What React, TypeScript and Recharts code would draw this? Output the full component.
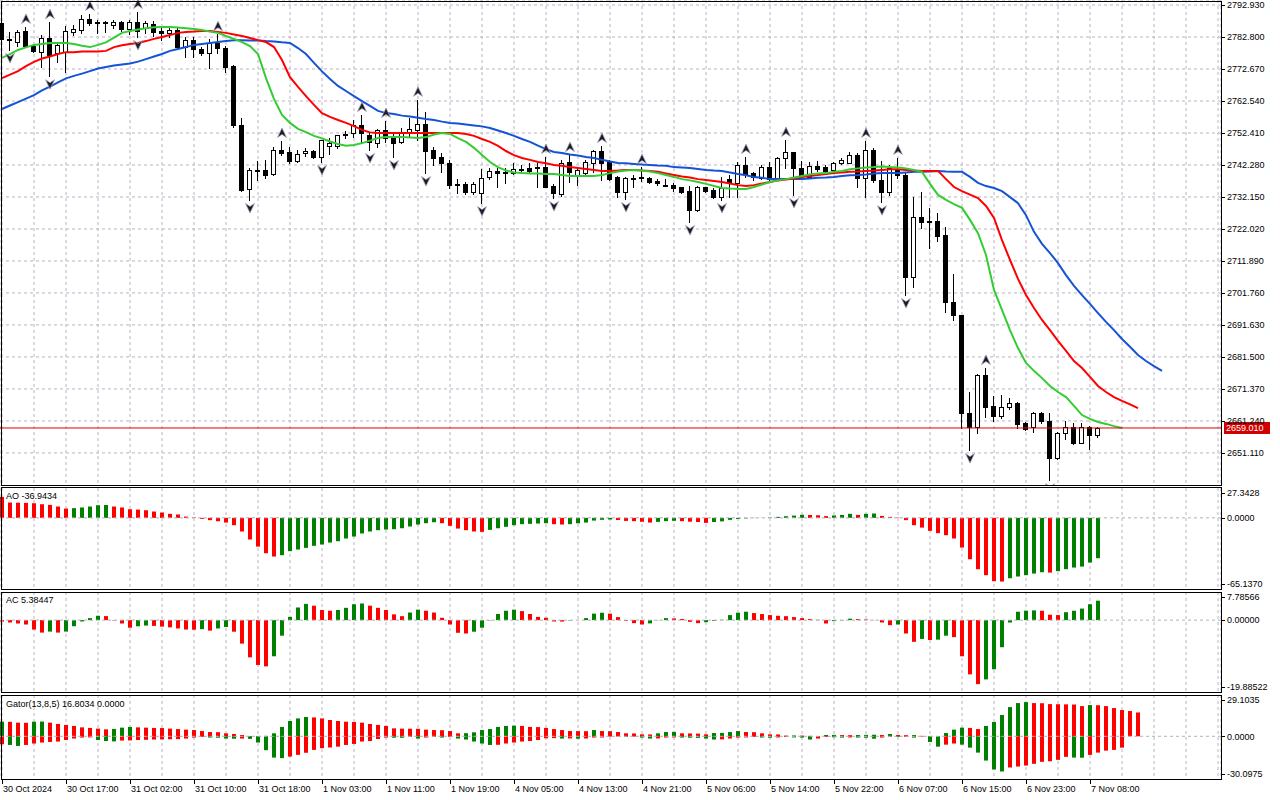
import {
  Bar,
  CartesianGrid,
  Cell,
  ComposedChart,
  Line,
  ReferenceLine,
  Scatter,
  XAxis,
  YAxis,
} from "recharts";

// ---- data ----
const timeLabels = [
  "30 Oct 2024", "30 Oct 17:00", "31 Oct 02:00", "31 Oct 10:00", "31 Oct 18:00",
  "1 Nov 03:00", "1 Nov 11:00", "1 Nov 19:00", "4 Nov 05:00", "4 Nov 13:00",
  "4 Nov 21:00", "5 Nov 06:00", "5 Nov 14:00", "5 Nov 22:00", "6 Nov 07:00",
  "6 Nov 15:00", "6 Nov 23:00", "7 Nov 08:00",
];

const priceTicks = [
  2792.93, 2782.8, 2772.67, 2762.54, 2752.41, 2742.28, 2732.15, 2722.02,
  2711.89, 2701.76, 2691.63, 2681.5, 2671.37, 2661.24, 2651.11,
];
const aoTicks = [27.3428, 0, -65.137];
const acTicks = [7.78566, 0, -19.88522];
const gatorTicks = [29.1035, 0, -30.0975];

const open = [
  2787.2, 2782.2, 2781.2, 2784.7, 2779.9, 2778.0, 2782.5, 2777.7, 2778.0, 2784.4,
  2785.0, 2788.5, 2787.5, 2787.4, 2786.6, 2787.7, 2785.3, 2787.5, 2785.6, 2786.9,
  2784.7, 2784.2, 2785.0, 2779.6, 2781.8, 2779.0, 2777.7, 2780.9, 2779.3, 2773.6,
  2754.9, 2734.7, 2740.7, 2740.7, 2739.4, 2747.0, 2746.4, 2743.5, 2746.1, 2746.7,
  2744.8, 2748.3, 2748.3, 2751.8, 2752.4, 2754.9, 2751.8, 2749.2, 2753.4, 2750.8,
  2749.5, 2752.7, 2753.4, 2755.2, 2747.0, 2744.8, 2742.9, 2736.1, 2736.3, 2733.7,
  2733.4, 2738.5, 2740.4, 2739.9, 2739.7, 2741.0, 2741.3, 2741.3, 2741.6, 2735.6,
  2733.1, 2743.2, 2738.8, 2739.7, 2742.9, 2746.7, 2743.2, 2738.5, 2733.7, 2738.2,
  2738.5, 2738.2, 2737.2, 2735.9, 2735.9, 2735.3, 2734.0, 2728.0, 2735.3, 2734.4,
  2732.1, 2737.8, 2736.6, 2742.3, 2739.7, 2738.2, 2741.6, 2737.8, 2744.5, 2746.4,
  2741.3, 2738.5, 2742.0, 2741.6, 2740.7, 2742.9, 2742.9, 2745.4, 2738.2, 2747.0,
  2737.5, 2733.7, 2740.7, 2739.1, 2706.8, 2725.8, 2724.5, 2724.5, 2720.1, 2698.9,
  2694.8, 2663.7, 2659.3, 2675.8, 2666.0, 2662.8, 2665.6, 2666.9, 2660.6, 2659.3,
  2663.7, 2661.2, 2649.5, 2657.4, 2659.3, 2654.3, 2659.3, 2656.8,
];
const high = [
  2787.9, 2784.4, 2785.0, 2786.0, 2780.6, 2783.4, 2787.5, 2780.9, 2786.3, 2786.6,
  2789.8, 2790.1, 2788.2, 2787.9, 2788.2, 2788.0, 2788.2, 2790.7, 2787.9, 2787.9,
  2785.6, 2786.3, 2785.6, 2782.8, 2782.8, 2779.6, 2782.2, 2783.7, 2779.9, 2773.9,
  2757.2, 2741.3, 2743.5, 2743.9, 2748.0, 2749.9, 2748.0, 2747.0, 2747.7, 2747.0,
  2750.2, 2750.8, 2751.8, 2753.0, 2756.5, 2758.1, 2752.4, 2753.7, 2756.2, 2752.4,
  2754.0, 2757.1, 2762.9, 2759.0, 2748.0, 2746.1, 2743.9, 2737.8, 2736.9, 2736.9,
  2741.0, 2741.3, 2741.3, 2741.3, 2742.9, 2742.3, 2742.9, 2742.9, 2744.8, 2736.3,
  2743.9, 2745.4, 2741.0, 2743.9, 2747.0, 2748.3, 2743.9, 2738.8, 2738.5, 2739.1,
  2741.6, 2738.5, 2737.8, 2737.8, 2736.6, 2735.3, 2735.6, 2735.6, 2735.3, 2735.0,
  2738.5, 2739.1, 2743.2, 2744.8, 2740.0, 2742.3, 2743.2, 2744.8, 2750.2, 2746.4,
  2743.5, 2743.2, 2743.5, 2742.3, 2743.2, 2744.5, 2746.4, 2746.1, 2749.9, 2747.7,
  2743.5, 2742.3, 2744.5, 2739.7, 2732.1, 2733.7, 2728.7, 2727.1, 2722.6, 2707.8,
  2694.8, 2670.4, 2676.1, 2678.0, 2669.1, 2669.4, 2668.5, 2667.2, 2660.9, 2664.1,
  2664.1, 2663.7, 2657.7, 2661.2, 2660.6, 2660.6, 2659.6, 2659.3,
];
const low = [
  2781.5, 2778.7, 2779.9, 2779.6, 2778.0, 2773.3, 2770.4, 2774.9, 2771.7, 2783.4,
  2784.1, 2786.6, 2784.1, 2784.4, 2785.6, 2784.7, 2783.7, 2782.8, 2784.1, 2783.1,
  2781.8, 2782.8, 2779.3, 2776.5, 2776.5, 2777.1, 2773.0, 2777.7, 2771.7, 2754.3,
  2734.0, 2731.2, 2737.5, 2738.1, 2739.1, 2745.4, 2742.9, 2743.2, 2745.1, 2744.5,
  2743.2, 2745.7, 2747.7, 2750.8, 2751.1, 2749.5, 2747.0, 2748.0, 2749.5, 2744.8,
  2749.2, 2751.1, 2750.2, 2739.7, 2742.3, 2740.0, 2735.0, 2733.4, 2733.1, 2733.1,
  2730.2, 2737.8, 2735.3, 2736.6, 2739.4, 2739.7, 2739.7, 2735.3, 2735.3, 2731.8,
  2732.5, 2736.9, 2735.9, 2739.4, 2740.0, 2737.5, 2737.5, 2732.1, 2731.5, 2735.3,
  2737.2, 2736.6, 2735.9, 2735.6, 2734.0, 2733.4, 2724.2, 2727.7, 2733.7, 2731.8,
  2731.2, 2732.1, 2732.1, 2738.5, 2737.5, 2737.8, 2737.5, 2737.5, 2741.3, 2732.8,
  2738.5, 2738.3, 2740.4, 2740.0, 2740.4, 2742.6, 2742.9, 2735.3, 2732.1, 2736.9,
  2730.5, 2732.8, 2738.2, 2701.1, 2703.6, 2722.3, 2716.0, 2718.2, 2695.7, 2693.2,
  2659.0, 2652.0, 2657.4, 2662.5, 2661.2, 2662.2, 2665.0, 2659.0, 2658.4, 2657.7,
  2660.6, 2642.5, 2649.2, 2655.5, 2653.9, 2654.3, 2652.3, 2656.1,
];
const close = [
  2782.2, 2782.0, 2784.4, 2779.9, 2778.4, 2782.5, 2777.1, 2780.2, 2784.7, 2785.3,
  2788.5, 2787.2, 2787.4, 2787.2, 2787.5, 2785.3, 2787.5, 2784.7, 2787.2, 2784.4,
  2784.2, 2785.0, 2779.6, 2781.8, 2779.0, 2777.7, 2780.9, 2779.3, 2773.3, 2754.9,
  2734.3, 2740.7, 2740.4, 2739.1, 2747.0, 2746.1, 2743.5, 2745.7, 2746.7, 2744.8,
  2750.2, 2749.2, 2751.8, 2752.1, 2754.9, 2752.4, 2749.5, 2753.4, 2750.8, 2749.2,
  2752.7, 2753.7, 2755.2, 2746.7, 2744.5, 2742.9, 2735.9, 2735.8, 2733.7, 2736.3,
  2738.2, 2740.4, 2739.7, 2739.7, 2741.0, 2740.8, 2740.4, 2741.6, 2735.3, 2733.4,
  2742.9, 2740.0, 2740.7, 2743.2, 2746.7, 2742.9, 2737.8, 2733.7, 2738.2, 2738.0,
  2738.3, 2736.9, 2736.6, 2735.8, 2735.0, 2733.7, 2728.0, 2735.3, 2734.0, 2732.1,
  2735.0, 2736.6, 2742.3, 2739.4, 2738.5, 2741.6, 2737.8, 2744.5, 2746.4, 2741.3,
  2739.1, 2742.0, 2741.0, 2740.4, 2742.9, 2743.9, 2745.4, 2738.2, 2747.0, 2737.5,
  2733.7, 2741.3, 2739.1, 2706.8, 2725.8, 2724.2, 2724.4, 2719.8, 2698.9, 2694.8,
  2663.7, 2659.3, 2675.8, 2665.6, 2662.8, 2665.6, 2666.9, 2660.3, 2658.7, 2663.7,
  2661.2, 2649.5, 2657.4, 2659.3, 2654.3, 2659.3, 2656.8, 2659.01,
];

// Alligator: jaw (blue), teeth (red), lips (green), already shifted forward
const jaw = [
  2760.0, 2761.1, 2762.2, 2763.3, 2764.4, 2765.9, 2767.1, 2768.4, 2769.7, 2770.5,
  2771.2, 2772.0, 2772.8, 2773.3, 2773.8, 2774.1, 2774.4, 2775.0, 2775.8, 2776.6,
  2777.4, 2778.4, 2779.0, 2779.6, 2780.3, 2780.6, 2780.9, 2781.2, 2781.5, 2781.8,
  2781.8, 2781.7, 2781.7, 2781.5, 2781.4, 2781.1, 2780.9, 2779.3, 2777.4, 2774.6,
  2771.9, 2769.5, 2767.3, 2765.7, 2764.1, 2762.5, 2761.0, 2759.4, 2758.7, 2758.4,
  2757.9, 2757.6, 2757.2, 2756.8, 2756.5, 2756.0, 2755.6, 2755.4, 2755.1, 2754.8,
  2754.5, 2754.0, 2753.2, 2752.4, 2751.5, 2750.5, 2749.6, 2748.4, 2747.3, 2746.4,
  2746.1, 2745.6, 2745.3, 2744.8, 2744.5, 2743.9, 2743.4, 2742.9, 2742.8, 2742.6,
  2742.4, 2742.3, 2742.1, 2742.0, 2741.6, 2741.5, 2741.3, 2741.0, 2740.7, 2740.5,
  2740.4, 2739.9, 2739.4, 2739.0, 2738.5, 2738.2, 2737.8, 2737.8, 2737.8, 2737.8,
  2737.8, 2738.0, 2738.2, 2738.3, 2738.5, 2738.8, 2739.0, 2739.1, 2739.3, 2739.6,
  2739.7, 2739.7, 2739.7, 2739.9, 2740.1, 2740.1, 2740.2, 2740.4, 2740.2, 2740.1,
  2740.1, 2738.5, 2736.6, 2735.6, 2735.0, 2734.0, 2732.1, 2730.2, 2726.4, 2721.1,
  2717.3, 2714.4, 2711.2, 2707.4, 2704.0, 2701.1, 2698.3, 2695.4, 2692.6, 2690.0,
  2687.2, 2684.7, 2682.1, 2680.2, 2678.6, 2677.1,
];
const teeth = [
  2769.8, 2770.9, 2772.0, 2773.6, 2774.9, 2776.0, 2776.6, 2777.4, 2778.0, 2778.0,
  2778.2, 2778.2, 2778.2, 2778.4, 2779.6, 2780.2, 2780.6, 2780.9, 2781.5, 2782.2,
  2782.8, 2783.4, 2784.1, 2784.4, 2784.5, 2784.7, 2784.7, 2784.4, 2784.1, 2783.6,
  2783.1, 2782.5, 2781.8, 2781.2, 2779.6, 2775.5, 2770.1, 2767.0, 2764.1, 2761.3,
  2758.7, 2757.5, 2756.5, 2755.6, 2754.6, 2753.4, 2752.6, 2752.4, 2752.4, 2752.4,
  2752.4, 2752.4, 2752.4, 2752.4, 2752.4, 2752.4, 2752.4, 2752.4, 2752.1, 2751.5,
  2750.5, 2749.6, 2748.3, 2746.7, 2745.4, 2744.5, 2743.9, 2743.2, 2742.8, 2742.3,
  2742.0, 2741.6, 2741.3, 2741.0, 2740.7, 2740.4, 2740.4, 2740.5, 2740.7, 2740.7,
  2740.5, 2740.4, 2740.1, 2739.6, 2739.1, 2738.6, 2738.3, 2737.8, 2737.5, 2737.2,
  2736.9, 2736.4, 2735.9, 2735.6, 2735.9, 2736.4, 2736.9, 2737.4, 2737.7, 2738.0,
  2738.5, 2738.8, 2739.1, 2739.4, 2739.7, 2739.9, 2740.1, 2740.2, 2740.4, 2740.5,
  2740.7, 2740.9, 2740.9, 2740.7, 2740.5, 2740.4, 2740.4, 2740.4, 2737.8, 2735.3,
  2734.0, 2732.9, 2731.8, 2729.3, 2725.5, 2718.5, 2712.2, 2706.2, 2701.1, 2697.0,
  2693.2, 2690.0, 2686.6, 2683.4, 2680.2, 2678.0, 2675.2, 2672.3, 2670.4, 2668.8,
  2667.6, 2666.5, 2665.3,
];
const lips = [
  2776.2, 2777.4, 2778.7, 2779.5, 2780.3, 2780.6, 2780.9, 2780.9, 2780.9, 2780.6,
  2780.0, 2779.6, 2780.3, 2781.1, 2782.6, 2784.1, 2784.7, 2785.2, 2785.6, 2785.9,
  2786.0, 2786.0, 2785.8, 2785.6, 2785.3, 2785.0, 2784.5, 2784.1, 2783.1, 2782.2,
  2781.2, 2779.9, 2777.4, 2769.8, 2763.2, 2758.1, 2755.6, 2753.7, 2752.7, 2751.5,
  2750.7, 2749.7, 2748.9, 2748.4, 2748.6, 2749.2, 2750.0, 2750.8, 2751.1, 2751.1,
  2751.1, 2751.0, 2750.8, 2751.1, 2751.9, 2752.4, 2752.1, 2750.8, 2749.6, 2747.7,
  2745.4, 2743.2, 2741.6, 2740.5, 2739.9, 2739.7, 2739.6, 2739.6, 2739.4, 2739.4,
  2739.1, 2738.8, 2738.8, 2738.8, 2738.8, 2739.1, 2739.7, 2740.2, 2740.5, 2740.7,
  2740.5, 2740.2, 2739.7, 2739.1, 2738.5, 2737.8, 2737.4, 2736.9, 2736.3, 2735.6,
  2735.0, 2734.8, 2734.7, 2734.7, 2735.3, 2736.1, 2736.9, 2737.4, 2737.8, 2738.3,
  2738.8, 2739.3, 2739.6, 2739.7, 2740.1, 2740.4, 2740.9, 2741.2, 2741.5, 2741.6,
  2741.8, 2741.6, 2741.5, 2741.2, 2740.7, 2740.1, 2736.3, 2732.8, 2731.2, 2729.9,
  2728.7, 2724.9, 2720.7, 2713.8, 2702.7, 2696.4, 2690.0, 2684.3, 2679.6, 2677.1,
  2674.8, 2672.3, 2670.4, 2668.8, 2666.0, 2663.1, 2661.9, 2660.9, 2660.3, 2659.6,
  2659.0,
];

const fractalUpBars = [3, 6, 11, 17, 27, 35, 45, 48, 52, 68, 71, 75, 80, 93, 98, 108, 112, 123];
const fractalDownBars = [1, 6, 17, 31, 40, 46, 49, 53, 60, 69, 78, 86, 90, 99, 110, 113, 121, 131];

const ao = [
  19.2, 14.0, 13.9, 13.7, 13.4, 12.5, 11.9, 10.4, 8.5, 8.9,
  9.5, 10.4, 11.6, 11.8, 10.4, 9.5, 7.9, 7.6, 7.0, 5.8,
  4.9, 3.7, 3.1, 1.2, 0.5, -0.9, -2.1, -3.1, -4.3, -6.7,
  -12.5, -19.8, -26.3, -32.4, -35.4, -34.2, -30.5, -29.0, -27.5, -25.6,
  -24.4, -22.6, -21.4, -18.9, -17.1, -14.3, -12.5, -11.3, -10.7, -10.4,
  -9.5, -7.9, -6.1, -4.9, -4.0, -4.9, -7.3, -9.8, -11.3, -12.5,
  -12.8, -11.0, -9.5, -8.2, -6.7, -5.8, -5.5, -5.2, -4.9, -5.8,
  -6.1, -5.8, -5.0, -4.3, -2.5, -1.8, -1.5, -2.0, -2.8, -3.0,
  -3.6, -4.3, -3.7, -3.0, -2.7, -3.0, -3.5, -3.8, -4.6, -3.8,
  -3.2, -1.8, -1.0, -0.5, -0.2, 0.1, 0.4, 0.9, 1.5, 2.1,
  2.8, 2.6, 2.4, 1.6, 2.2, 2.7, 3.7, 2.7, 3.7, 4.0,
  1.8, 0.9, 0.3, -2.1, -6.7, -8.9, -11.9, -14.0, -15.9, -18.9,
  -27.2, -37.9, -47.0, -52.5, -58.0, -58.3, -55.3, -53.7, -52.5, -51.0,
  -49.8, -50.1, -48.8, -47.0, -45.5, -44.6, -40.9, -36.9434,
];

const ac = [
  -0.4, -0.65, -0.93, -1.21, -2.61, -3.45, -3.17, -3.45, -3.17, -1.68,
  -0.37, 0.56, 1.21, 1.12, -0.1, -0.93, -2.1, -1.7, -1.5, -1.6,
  -1.8, -2.0, -2.3, -2.6, -2.65, -2.5, -2.9, -2.3, -1.9, -3.2,
  -6.5, -10.3, -12.4, -12.8, -10.0, -4.3, 0.9, 3.5, 4.5, 4.0,
  2.8, 2.6, 2.8, 3.4, 4.4, 4.6, 4.0, 3.4, 2.8, 1.6,
  1.1, 2.1, 2.9, 2.6, 2.1, 0.65, -1.2, -3.5, -3.7, -3.2,
  -2.1, -0.1, 1.7, 2.6, 2.9, 2.5, 1.7, 0.9, 0.65, -0.37,
  -0.4, -0.1, 0.0, 0.56, 1.8, 2.05, 1.8, 0.84, -0.2, -0.84,
  -1.2, -0.9, -0.05, 0.56, 0.47, 0.3, -0.47, -0.84, -0.56, -0.2,
  0.1, 1.4, 2.05, 2.33, 1.96, 1.68, 1.4, 1.2, 1.1, 0.84,
  0.56, 0.28, 0.1, -0.93, -0.28, -0.1, 0.4, 0.28, 0.19, 0.05,
  -0.65, -1.4, -1.2, -3.7, -6.0, -5.2, -5.5, -5.4, -4.3, -4.7,
  -10.0, -15.0, -17.7, -16.4, -13.6, -7.5, -0.65, 2.33, 2.6, 2.7,
  2.6, 1.5, 1.4, 2.2, 2.6, 3.2, 4.4, 5.38447,
];

const gatorUp = [
  10.3, 10.2, 9.6, 9.5, 10.3, 10.4, 9.6, 8.7, 8.0, 7.3,
  6.3, 5.9, 5.4, 4.9, 5.2, 6.1, 6.6, 6.3, 6.1, 5.9,
  5.8, 5.4, 5.1, 4.7, 4.4, 3.7, 3.0, 2.9, 2.1, 1.6,
  0.9, 0.2, 0.1, 0.3, 2.1, 6.6, 10.8, 12.6, 13.6, 13.3,
  12.6, 11.5, 10.8, 10.3, 10.1, 9.6, 8.7, 8.0, 7.3, 5.6,
  5.4, 5.35, 5.3, 4.7, 4.4, 4.3, 3.7, 2.1, 2.2, 2.8,
  4.4, 5.1, 6.6, 7.3, 7.5, 7.3, 6.6, 6.5, 5.9, 5.1,
  4.4, 3.7, 3.65, 3.6, 4.4, 3.7, 3.6, 3.0, 2.1, 2.0,
  1.4, 1.3, 2.1, 3.0, 3.1, 2.1, 2.0, 1.9, 1.4, 2.3,
  2.4, 3.0, 3.7, 3.0, 2.9, 2.1, 1.4, 1.3, 0.5, 0.6,
  0.5, 0.3, 0.2, 0.9, 1.0, 0.9, 0.8, 0.9, 1.0, 1.1,
  0.9, 1.6, 0.9, 0.8, 0.9, 0.3, 0.1, 0.05, 2.3, 4.7,
  6.1, 5.9, 5.1, 7.3, 10.1, 15.0, 20.6, 23.4, 24.1, 23.4,
  23.3, 22.7, 22.6, 22.5, 22.4, 21.3, 22.0, 21.9, 21.3, 19.9,
  18.5, 17.8, 16.8034,
];
const gatorDown = [
  -5.6, -6.1, -6.8, -6.1, -5.1, -4.4, -4.0, -3.7, -2.6, -1.6,
  -0.9, -0.8, -2.6, -3.3, -3.6, -3.0, -2.9, -2.6, -2.5, -2.3,
  -2.2, -2.1, -2.0, -1.6, -0.9, -0.5, -0.9, -1.0, -1.6, -1.7,
  -1.6, -1.8, -4.4, -9.8, -15.0, -15.4, -14.3, -13.1, -11.6, -9.6,
  -8.4, -7.9, -7.3, -6.1, -5.4, -3.7, -3.3, -1.9, -0.9, -1.0,
  -1.05, -0.5, -1.6, -0.9, -0.5, -0.9, -0.5, -1.6, -2.3, -3.7,
  -5.1, -6.1, -6.0, -5.1, -4.4, -3.7, -3.3, -2.6, -1.4, -1.3,
  -1.6, -1.5, -1.7, -1.55, -0.9, -0.85, -0.3, -0.2, -0.5, -0.3,
  -0.9, -1.6, -1.5, -0.9, -0.8, -0.9, -1.0, -1.1, -1.6, -2.3,
  -2.2, -1.6, -0.9, -0.8, -0.5, -0.9, -1.0, -0.8, -0.5, -0.8,
  -0.9, -2.3, -1.6, -0.5, -0.7, -0.9, -0.8, -0.9, -1.0, -1.7,
  -0.9, -0.4, -0.5, -0.4, -0.9, -0.2, -4.0, -7.3, -5.9, -5.1,
  -5.9, -8.0, -11.5, -17.1, -23.4, -24.8, -22.0, -21.3, -20.6, -19.4,
  -18.0, -17.6, -16.6, -14.5, -15.0, -15.1, -13.1, -11.5, -10.1, -9.6,
  -8.0,
];

// ---- layout / style ----
const FONT = "'Liberation Sans', Arial, sans-serif";
const GREEN = "#008000";
const RED = "#ff0000";
const GRID = "#bdb3c4";
const X_DOMAIN: [number, number] = [-0.25, 152.375];
const gridTicks = Array.from({ length: 39 }, (_, k) => k * 4);

const rows = jaw.map((_, i) => ({
  i,
  range: i < open.length ? [low[i], high[i]] : undefined,
  open: open[i],
  high: high[i],
  low: low[i],
  close: close[i],
  jaw: jaw[i],
  teeth: teeth[i],
  lips: lips[i],
  ao: ao[i],
  ac: ac[i],
  gu: gatorUp[i],
  gl: gatorDown[i],
}));

const upPoints = fractalUpBars.map((i) => ({ i, v: high[i] }));
const downPoints = fractalDownBars.map((i) => ({ i, v: low[i] }));

const risingColor = (arr: number[], i: number, first: string) =>
  i === 0 ? first : arr[i] > arr[i - 1] ? GREEN : RED;
const widenColor = (arr: number[], i: number, first: string) =>
  i === 0 ? first : Math.abs(arr[i]) > Math.abs(arr[i - 1]) ? GREEN : RED;

function Candle(props: any) {
  const { x, y, width, height, payload } = props;
  if (payload == null || payload.open == null) return null;
  const top = height >= 0 ? y : y + height;
  const h = Math.abs(height);
  const span = payload.high - payload.low;
  const toY = (v: number) => (span > 0 ? top + ((payload.high - v) / span) * h : top);
  const cx = Math.floor(x + width / 2) + 0.5;
  const yo = toY(payload.open);
  const yc = toY(payload.close);
  const bTop = Math.round(Math.min(yo, yc)) + 0.5;
  const bBot = Math.max(Math.round(Math.max(yo, yc)) + 0.5, bTop + 1);
  const bull = payload.close > payload.open;
  return (
    <g>
      <line x1={cx} x2={cx} y1={Math.round(top)} y2={Math.round(top + h) + 1} stroke="#000" strokeWidth={1} />
      <rect x={cx - 2} y={bTop} width={4} height={bBot - bTop} fill={bull ? "#fff" : "#000"} stroke="#000" strokeWidth={1} />
    </g>
  );
}

function FractalUp({ cx, cy }: any) {
  const y = cy - 8;
  return (
    <path
      d={`M${cx},${y - 5} L${cx + 4.5},${y + 4.5} L${cx},${y + 1.5} L${cx - 4.5},${y + 4.5} Z`}
      fill="#1b1b2b"
      stroke="#a4a4b4"
      strokeWidth={0.7}
    />
  );
}

function FractalDown({ cx, cy }: any) {
  const y = cy + 8;
  return (
    <path
      d={`M${cx},${y + 5} L${cx + 4.5},${y - 4.5} L${cx},${y - 1.5} L${cx - 4.5},${y - 4.5} Z`}
      fill="#1b1b2b"
      stroke="#a4a4b4"
      strokeWidth={0.7}
    />
  );
}

function PriceTick({ x, y, payload }: any) {
  return (
    <g>
      <line x1={x} x2={x + 4} y1={Math.round(y) + 0.5} y2={Math.round(y) + 0.5} stroke="#000" />
      <text x={x + 6} y={y} dy="0.36em" fontSize={9} fontFamily={FONT} fill="#000">
        {Number(payload.value).toFixed(3)}
      </text>
    </g>
  );
}

function makeIndicatorTick(ticks: number[], digits: number) {
  const max = Math.max(...ticks);
  const min = Math.min(...ticks);
  return function IndicatorTick({ x, y, payload }: any) {
    const v = Number(payload.value);
    const yy = v === max ? y + 5 : v === min ? y - 5 : y;
    return (
      <g>
        <line x1={x} x2={x + 4} y1={Math.round(yy) + 0.5} y2={Math.round(yy) + 0.5} stroke="#000" />
        <text x={x + 6} y={yy} dy="0.36em" fontSize={9} fontFamily={FONT} fill="#000">
          {v.toFixed(digits)}
        </text>
      </g>
    );
  };
}

const AoTick = makeIndicatorTick(aoTicks, 4);
const AcTick = makeIndicatorTick(acTicks, 5);
const GatorTick = makeIndicatorTick(gatorTicks, 4);

function TimeTick({ x, y, payload }: any) {
  const v = Number(payload.value);
  const label = v % 8 === 0 ? timeLabels[v / 8] : undefined;
  if (!label) return <g />;
  const tx = Math.round(x) + 0.5;
  return (
    <g>
      <line x1={tx} x2={tx} y1={y} y2={y + 5} stroke="#000" />
      <text x={x + 1} y={y + 13} fontSize={9} fontFamily={FONT} fill="#000">
        {label}
      </text>
    </g>
  );
}

function PriceTag({ viewBox, value }: any) {
  if (!viewBox) return null;
  const x = viewBox.x + viewBox.width + 3;
  const y = viewBox.y;
  return (
    <g>
      <rect x={x} y={y - 6} width={46} height={12} fill="#d00000" />
      <text x={x + 2} y={y} dy="0.36em" fontSize={9} fontFamily={FONT} fill="#fff">
        {Number(value).toFixed(3)}
      </text>
    </g>
  );
}

const lastClose = close[close.length - 1];

const frame = (top: number, height: number) => ({
  position: "absolute" as const,
  left: 1,
  top,
  width: 1221,
  height,
  border: "1px solid #000",
  boxSizing: "border-box" as const,
  pointerEvents: "none" as const,
});

const legendStyle = (top: number) => ({
  position: "absolute" as const,
  left: 6,
  top,
  fontSize: 9,
  lineHeight: "10px",
  fontFamily: FONT,
  color: "#000",
  whiteSpace: "nowrap" as const,
});

export default function App() {
  return (
    <div
      style={{
        position: "absolute",
        left: 0,
        top: 0,
        width: 1280,
        height: 800,
        background: "#fff",
        overflow: "hidden",
        fontFamily: FONT,
      }}
    >
      {/* price panel */}
      <div style={{ position: "absolute", left: 0, top: 0 }}>
        <ComposedChart width={1280} height={486} data={rows} margin={{ top: 0, right: 0, bottom: 0, left: 0 }}>
          <CartesianGrid stroke={GRID} strokeDasharray="3 3" />
          <XAxis type="number" dataKey="i" domain={X_DOMAIN} ticks={gridTicks} interval={0} allowDataOverflow hide />
          <YAxis
            type="number"
            orientation="right"
            width={59}
            domain={[2640.64, 2794.51]}
            ticks={priceTicks}
            interval={0}
            allowDataOverflow
            axisLine={false}
            tickLine={false}
            tickSize={0}
            tickMargin={0}
            tick={<PriceTick />}
          />
          <Bar dataKey="range" barSize={5} shape={<Candle />} isAnimationActive={false} />
          <Line dataKey="jaw" stroke="#1553d6" strokeWidth={2} dot={false} activeDot={false} isAnimationActive={false} />
          <Line dataKey="teeth" stroke="#ff0000" strokeWidth={2} dot={false} activeDot={false} isAnimationActive={false} />
          <Line dataKey="lips" stroke="#33cc33" strokeWidth={2} dot={false} activeDot={false} isAnimationActive={false} />
          <Scatter data={upPoints} dataKey="v" shape={<FractalUp />} isAnimationActive={false} />
          <Scatter data={downPoints} dataKey="v" shape={<FractalDown />} isAnimationActive={false} />
          <ReferenceLine y={lastClose} stroke="#e00000" strokeWidth={1} label={<PriceTag value={lastClose} />} />
        </ComposedChart>
      </div>

      {/* AO panel */}
      <div style={{ position: "absolute", left: 0, top: 488 }}>
        <ComposedChart width={1280} height={101} data={rows} margin={{ top: 0, right: 0, bottom: 0, left: 0 }}>
          <CartesianGrid stroke={GRID} strokeDasharray="3 3" horizontal={false} />
          <XAxis type="number" dataKey="i" domain={X_DOMAIN} ticks={gridTicks} interval={0} allowDataOverflow hide />
          <YAxis
            type="number"
            orientation="right"
            width={59}
            domain={[-65.137, 27.3428]}
            ticks={aoTicks}
            interval={0}
            allowDataOverflow
            axisLine={false}
            tickLine={false}
            tickSize={0}
            tickMargin={0}
            tick={<AoTick />}
          />
          <ReferenceLine y={0} stroke="#b0b0b8" strokeDasharray="3 3" />
          <Bar dataKey="ao" barSize={4} isAnimationActive={false}>
            {rows.map((r) => (
              <Cell key={r.i} fill={r.i < ao.length ? risingColor(ao, r.i, RED) : "none"} />
            ))}
          </Bar>
        </ComposedChart>
      </div>

      {/* AC panel */}
      <div style={{ position: "absolute", left: 0, top: 592 }}>
        <ComposedChart width={1280} height={100} data={rows} margin={{ top: 0, right: 0, bottom: 0, left: 0 }}>
          <CartesianGrid stroke={GRID} strokeDasharray="3 3" horizontal={false} />
          <XAxis type="number" dataKey="i" domain={X_DOMAIN} ticks={gridTicks} interval={0} allowDataOverflow hide />
          <YAxis
            type="number"
            orientation="right"
            width={59}
            domain={[-19.88522, 7.78566]}
            ticks={acTicks}
            interval={0}
            allowDataOverflow
            axisLine={false}
            tickLine={false}
            tickSize={0}
            tickMargin={0}
            tick={<AcTick />}
          />
          <ReferenceLine y={0} stroke="#b0b0b8" strokeDasharray="3 3" />
          <Bar dataKey="ac" barSize={4} isAnimationActive={false}>
            {rows.map((r) => (
              <Cell key={r.i} fill={r.i < ac.length ? risingColor(ac, r.i, RED) : "none"} />
            ))}
          </Bar>
        </ComposedChart>
      </div>

      {/* Gator panel with time axis */}
      <div style={{ position: "absolute", left: 0, top: 695 }}>
        <ComposedChart
          width={1280}
          height={105}
          data={rows}
          stackOffset="sign"
          margin={{ top: 0, right: 0, bottom: 0, left: 0 }}
        >
          <CartesianGrid stroke={GRID} strokeDasharray="3 3" horizontal={false} />
          <XAxis
            type="number"
            dataKey="i"
            domain={X_DOMAIN}
            ticks={gridTicks}
            interval={0}
            allowDataOverflow
            height={21}
            axisLine={false}
            tickLine={false}
            tickSize={0}
            tickMargin={0}
            tick={<TimeTick />}
          />
          <YAxis
            type="number"
            orientation="right"
            width={59}
            domain={[-30.0975, 29.1035]}
            ticks={gatorTicks}
            interval={0}
            allowDataOverflow
            axisLine={false}
            tickLine={false}
            tickSize={0}
            tickMargin={0}
            tick={<GatorTick />}
          />
          <ReferenceLine y={0} stroke="#b0b0b8" strokeDasharray="3 3" />
          <Bar dataKey="gu" stackId="g" barSize={4} isAnimationActive={false}>
            {rows.map((r) => (
              <Cell key={r.i} fill={r.i < gatorUp.length ? widenColor(gatorUp, r.i, GREEN) : "none"} />
            ))}
          </Bar>
          <Bar dataKey="gl" stackId="g" barSize={4} isAnimationActive={false}>
            {rows.map((r) => (
              <Cell key={r.i} fill={r.i < gatorDown.length ? widenColor(gatorDown, r.i, RED) : "none"} />
            ))}
          </Bar>
        </ComposedChart>
      </div>

      {/* panel frames */}
      <div style={frame(1, 485)} />
      <div style={frame(487, 103)} />
      <div style={frame(592, 101)} />
      <div style={frame(695, 85)} />

      {/* indicator captions */}
      <div style={legendStyle(491)}>{`AO ${ao[ao.length - 1].toFixed(4)}`}</div>
      <div style={legendStyle(595)}>{`AC ${ac[ac.length - 1].toFixed(5)}`}</div>
      <div style={legendStyle(699)}>
        {`Gator(13,8,5) ${gatorUp[gatorUp.length - 1].toFixed(4)} ${(gatorDown[gatorUp.length - 1] ?? 0).toFixed(4)}`}
      </div>
    </div>
  );
}
